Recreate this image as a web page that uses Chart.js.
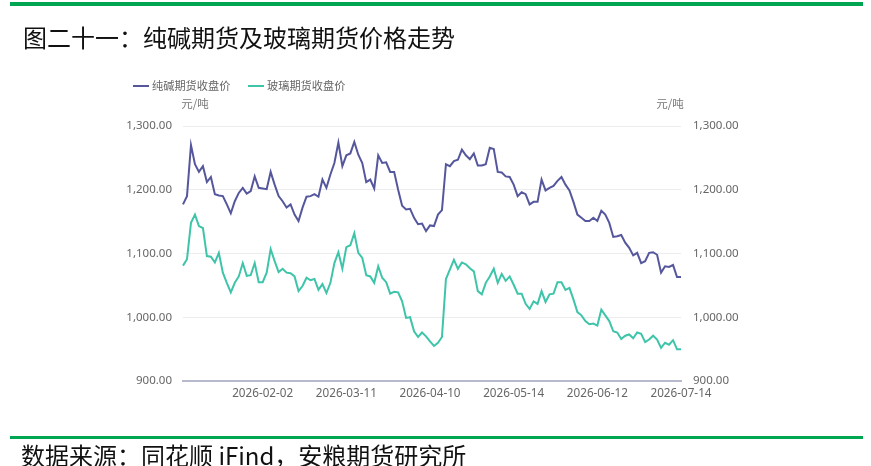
<!DOCTYPE html>
<html>
<head>
<meta charset="utf-8">
<script src="https://cdn.jsdelivr.net/npm/chart.js@4.4.1/dist/chart.umd.min.js"></script>
<style>
  html, body { margin: 0; padding: 0; background: #ffffff; }
  #wrap { width: 871px; height: 466px; }
</style>
</head>
<body>
<div id="wrap"><canvas id="c" width="871" height="466"></canvas></div>
<script>
const titleText = '图二十一：纯碱期货及玻璃期货价格走势';
const footerText = '数据来源：同花顺 iFind，安粮期货研究所';
const unitText = '元/吨';
const seriesNames = ['纯碱期货收盘价', '玻璃期货收盘价'];

const dates = [
  '2026-01-05','2026-01-06','2026-01-07','2026-01-08','2026-01-09','2026-01-12','2026-01-13','2026-01-14','2026-01-15','2026-01-16',
  '2026-01-19','2026-01-20','2026-01-21','2026-01-22','2026-01-23','2026-01-26','2026-01-27','2026-01-28','2026-01-29','2026-01-30',
  '2026-02-02','2026-02-03','2026-02-04','2026-02-05','2026-02-06','2026-02-09','2026-02-10','2026-02-11','2026-02-12','2026-02-13',
  '2026-02-24','2026-02-25','2026-02-26','2026-02-27','2026-03-02','2026-03-03','2026-03-04','2026-03-05','2026-03-06','2026-03-09',
  '2026-03-10','2026-03-11','2026-03-12','2026-03-13','2026-03-16','2026-03-17','2026-03-18','2026-03-19','2026-03-20','2026-03-23',
  '2026-03-24','2026-03-25','2026-03-26','2026-03-27','2026-03-30','2026-03-31','2026-04-01','2026-04-02','2026-04-03','2026-04-07',
  '2026-04-08','2026-04-09','2026-04-10','2026-04-13','2026-04-14','2026-04-15','2026-04-16','2026-04-17','2026-04-20','2026-04-21',
  '2026-04-22','2026-04-23','2026-04-24','2026-04-27','2026-04-28','2026-04-29','2026-04-30','2026-05-06','2026-05-07','2026-05-08',
  '2026-05-11','2026-05-12','2026-05-13','2026-05-14','2026-05-15','2026-05-18','2026-05-19','2026-05-20','2026-05-21','2026-05-22',
  '2026-05-25','2026-05-26','2026-05-27','2026-05-28','2026-05-29','2026-06-01','2026-06-02','2026-06-03','2026-06-04','2026-06-05',
  '2026-06-08','2026-06-09','2026-06-10','2026-06-11','2026-06-12','2026-06-15','2026-06-16','2026-06-17','2026-06-18','2026-06-22',
  '2026-06-23','2026-06-24','2026-06-25','2026-06-26','2026-06-29','2026-06-30','2026-07-01','2026-07-02','2026-07-03','2026-07-06',
  '2026-07-07','2026-07-08','2026-07-09','2026-07-10','2026-07-13','2026-07-14'
];

const sodaAsh = [
  1177,1190,1270,1240,1228,1237,1212,1220,1193,1191,
  1190,1177,1163,1182,1195,1203,1194,1198,1221,1203,
  1202,1201,1228,1208,1190,1182,1172,1177,1161,1151,
  1172,1189,1190,1193,1189,1216,1203,1224,1242,1274,
  1237,1254,1257,1275,1255,1242,1212,1216,1202,1254,
  1242,1243,1228,1228,1200,1175,1169,1170,1156,1146,
  1147,1135,1144,1143,1161,1168,1240,1237,1245,1247,
  1263,1254,1248,1257,1238,1238,1240,1266,1264,1228,
  1227,1221,1220,1208,1190,1196,1193,1177,1181,1181,
  1216,1199,1203,1206,1214,1220,1208,1199,1181,1161,
  1156,1151,1151,1156,1151,1167,1161,1148,1126,1127,
  1129,1117,1109,1097,1101,1085,1088,1101,1102,1098,
  1070,1080,1079,1082,1063,1063
];

const glass = [
  1081,1091,1148,1161,1143,1140,1096,1095,1086,1101,
  1070,1054,1039,1054,1064,1085,1065,1066,1085,1055,
  1055,1070,1107,1088,1071,1076,1070,1069,1064,1041,
  1049,1062,1058,1060,1043,1052,1038,1054,1085,1102,
  1076,1110,1113,1132,1101,1093,1066,1064,1054,1080,
  1062,1055,1037,1040,1039,1025,999,1000,978,969,
  976,970,962,955,960,969,1060,1075,1090,1076,
  1086,1083,1077,1072,1041,1036,1054,1064,1076,1054,
  1068,1057,1064,1051,1037,1037,1021,1013,1025,1021,
  1041,1024,1036,1037,1055,1055,1043,1046,1028,1008,
  1003,994,989,990,987,1012,1003,994,978,976,
  966,971,973,967,976,974,961,965,971,965,
  952,960,957,964,950,950
];

const xTickLabels = ['2026-02-02','2026-03-11','2026-04-10','2026-05-14','2026-06-12','2026-07-14'];
const yMin = 900, yMax = 1300, yStep = 100;

const colors = ['#55579c', '#3ec4a9'];
const FONT = '"Noto Sans", "Noto Sans CJK SC", sans-serif';
const CJK = '"Noto Sans CJK SC", "Noto Sans", sans-serif';

function fmt(v) {
  return Number(v).toLocaleString('en-US', { minimumFractionDigits: 2, maximumFractionDigits: 2 });
}

const decor = {
  id: 'decor',
  beforeDraw(chart) {
    const ctx = chart.ctx;
    ctx.save();
    ctx.fillStyle = '#ffffff';
    ctx.fillRect(0, 0, chart.width, chart.height);
    ctx.restore();
  },
  afterDraw(chart) {
    const ctx = chart.ctx;
    ctx.save();
    // green bars
    ctx.fillStyle = '#00a651';
    ctx.fillRect(10, 2, 853, 4);
    ctx.fillRect(10, 436, 853, 3);
    // title
    ctx.fillStyle = '#111111';
    ctx.textBaseline = 'middle';
    ctx.textAlign = 'left';
    ctx.font = '24px ' + CJK;
    ctx.fillText(titleText, 23, 38);
    // footer
    ctx.font = '24px ' + CJK;
    ctx.fillText(footerText, 21, 456);
    // legend
    ctx.font = '11.2px ' + CJK;
    const legendItems = [
      { x1: 133, x2: 149, tx: 152 },
      { x1: 248, x2: 264, tx: 267 }
    ];
    chart.data.datasets.forEach((ds, i) => {
      const it = legendItems[i];
      ctx.strokeStyle = ds.borderColor;
      ctx.lineWidth = 2;
      ctx.beginPath();
      ctx.moveTo(it.x1, 86);
      ctx.lineTo(it.x2, 86);
      ctx.stroke();
      ctx.fillStyle = '#666666';
      ctx.fillText(ds.label, it.tx, 86);
    });
    // unit labels
    ctx.font = '11.5px ' + CJK;
    ctx.fillStyle = '#777777';
    ctx.textAlign = 'center';
    ctx.fillText(unitText, 195, 104);
    ctx.fillText(unitText, 670, 104);
    ctx.restore();
  }
};

new Chart(document.getElementById('c'), {
  type: 'line',
  data: {
    labels: dates,
    datasets: [
      { label: seriesNames[0], data: sodaAsh, borderColor: colors[0], backgroundColor: colors[0], borderWidth: 2, pointRadius: 0, tension: 0, yAxisID: 'y' },
      { label: seriesNames[1], data: glass, borderColor: colors[1], backgroundColor: colors[1], borderWidth: 2, pointRadius: 0, tension: 0, yAxisID: 'y' }
    ]
  },
  options: {
    responsive: false,
    animation: false,
    devicePixelRatio: 1,
    layout: { padding: { top: 126, bottom: 55, left: 0, right: 0 } },
    plugins: {
      legend: { display: false },
      title: { display: false },
      tooltip: { enabled: false }
    },
    scales: {
      x: {
        type: 'category',
        offset: false,
        grid: { display: false, drawTicks: false },
        border: { display: true, color: '#b7bacd', width: 2 },
        ticks: {
          autoSkip: false,
          maxRotation: 0,
          minRotation: 0,
          padding: 6,
          color: '#666666',
          font: { family: FONT, size: 11.7 },
          callback: function (value) {
            const lab = this.getLabelForValue(value);
            return xTickLabels.includes(lab) ? lab : null;
          }
        },
        afterFit(scale) { scale.height = 30; }
      },
      y: {
        position: 'left',
        min: yMin, max: yMax,
        grid: { color: '#ececec', lineWidth: 1, drawTicks: false },
        border: { display: false },
        ticks: {
          stepSize: yStep,
          padding: 11,
          color: '#666666',
          font: { family: FONT, size: 11.5 },
          callback: (v) => fmt(v)
        },
        afterFit(scale) { scale.width = 183; }
      },
      y1: {
        position: 'right',
        min: yMin, max: yMax,
        grid: { display: false, drawTicks: false },
        border: { display: false },
        ticks: {
          stepSize: yStep,
          padding: 12,
          color: '#666666',
          font: { family: FONT, size: 11.5 },
          callback: (v) => fmt(v)
        },
        afterFit(scale) { scale.width = 190; }
      }
    }
  },
  plugins: [decor]
});
</script>
</body>
</html>
